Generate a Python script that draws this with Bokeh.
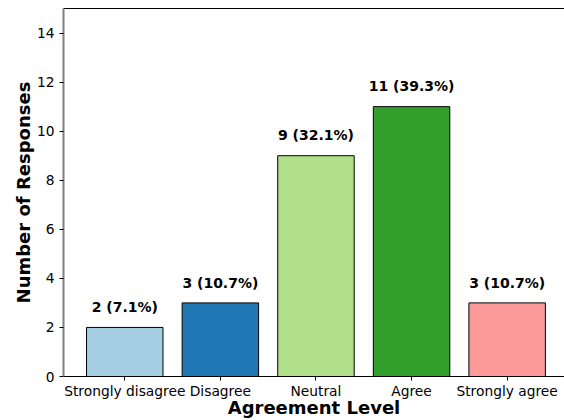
from bokeh.plotting import figure
from bokeh.models import ColumnDataSource, Range1d, FixedTicker, LinearAxis
from bokeh.embed import file_html
from bokeh.resources import INLINE
from bokeh.core.properties import value

categories = ["Strongly disagree", "Disagree", "Neutral", "Agree", "Strongly agree"]
counts = [2, 3, 9, 11, 3]
percents = [7.1, 10.7, 32.1, 39.3, 10.7]
colors = ["#a6cee3", "#1f78b4", "#b2df8a", "#33a02c", "#fb9a99"]
y_ticks = [0, 2, 4, 6, 8, 10, 12, 14]

xs = list(range(len(categories)))
labels = [f"{c} ({p}%)" for c, p in zip(counts, percents)]
label_y = [c + 0.5 for c in counts]

src = ColumnDataSource(dict(x=xs, top=counts, color=colors, label=labels, ly=label_y))

FONT = "DejaVu Sans"

p = figure(width=564, height=420, output_backend="svg", toolbar_location=None,
           x_range=Range1d(-0.641, 4.60), y_range=Range1d(0, 15),
           min_border_left=63, min_border_top=8, min_border_right=0, min_border_bottom=0)
p.outline_line_color = None
p.grid.visible = False
p.background_fill_color = "white"
p.border_fill_color = "white"

p.vbar(x="x", top="top", width=0.8, source=src, fill_color="color",
       line_color="black", line_width=1)

p.text(x="x", y="ly", text="label", source=src, text_align="center",
       text_baseline="bottom", text_font=value(FONT), text_font_size="14px",
       text_font_style="bold", text_color="black")

# x axis
xa = p.xaxis[0]
xa.ticker = FixedTicker(ticks=xs)
xa.major_label_overrides = {i: c for i, c in enumerate(categories)}
xa.axis_label = "Agreement Level"
# y axis
ya = p.yaxis[0]
ya.ticker = FixedTicker(ticks=y_ticks)
ya.axis_label = "Number of Responses"

for ax in (xa, ya):
    ax.major_label_text_font = FONT
    ax.major_label_text_font_size = "13.8px"
    ax.major_label_text_color = "black"
    ax.axis_label_text_font = FONT
    ax.axis_label_text_font_size = "18px"
    ax.axis_label_text_font_style = "bold"
    ax.axis_label_text_color = "black"
    ax.major_tick_out = 4
    ax.major_tick_in = 0
    ax.major_tick_line_color = "black"
    ax.minor_tick_line_color = None

xa.axis_line_color = "black"
xa.major_label_standoff = 2
xa.axis_label_standoff = -5
ya.axis_line_color = "#808080"
ya.axis_line_width = 2
ya.major_label_standoff = 5
ya.axis_label_standoff = 0

top_axis = LinearAxis(ticker=FixedTicker(ticks=[]), major_label_text_font_size="0px",
                      major_tick_line_color=None, minor_tick_line_color=None,
                      axis_line_color="black")
p.add_layout(top_axis, "above")

open("out.html", "w").write(file_html(p, INLINE))
